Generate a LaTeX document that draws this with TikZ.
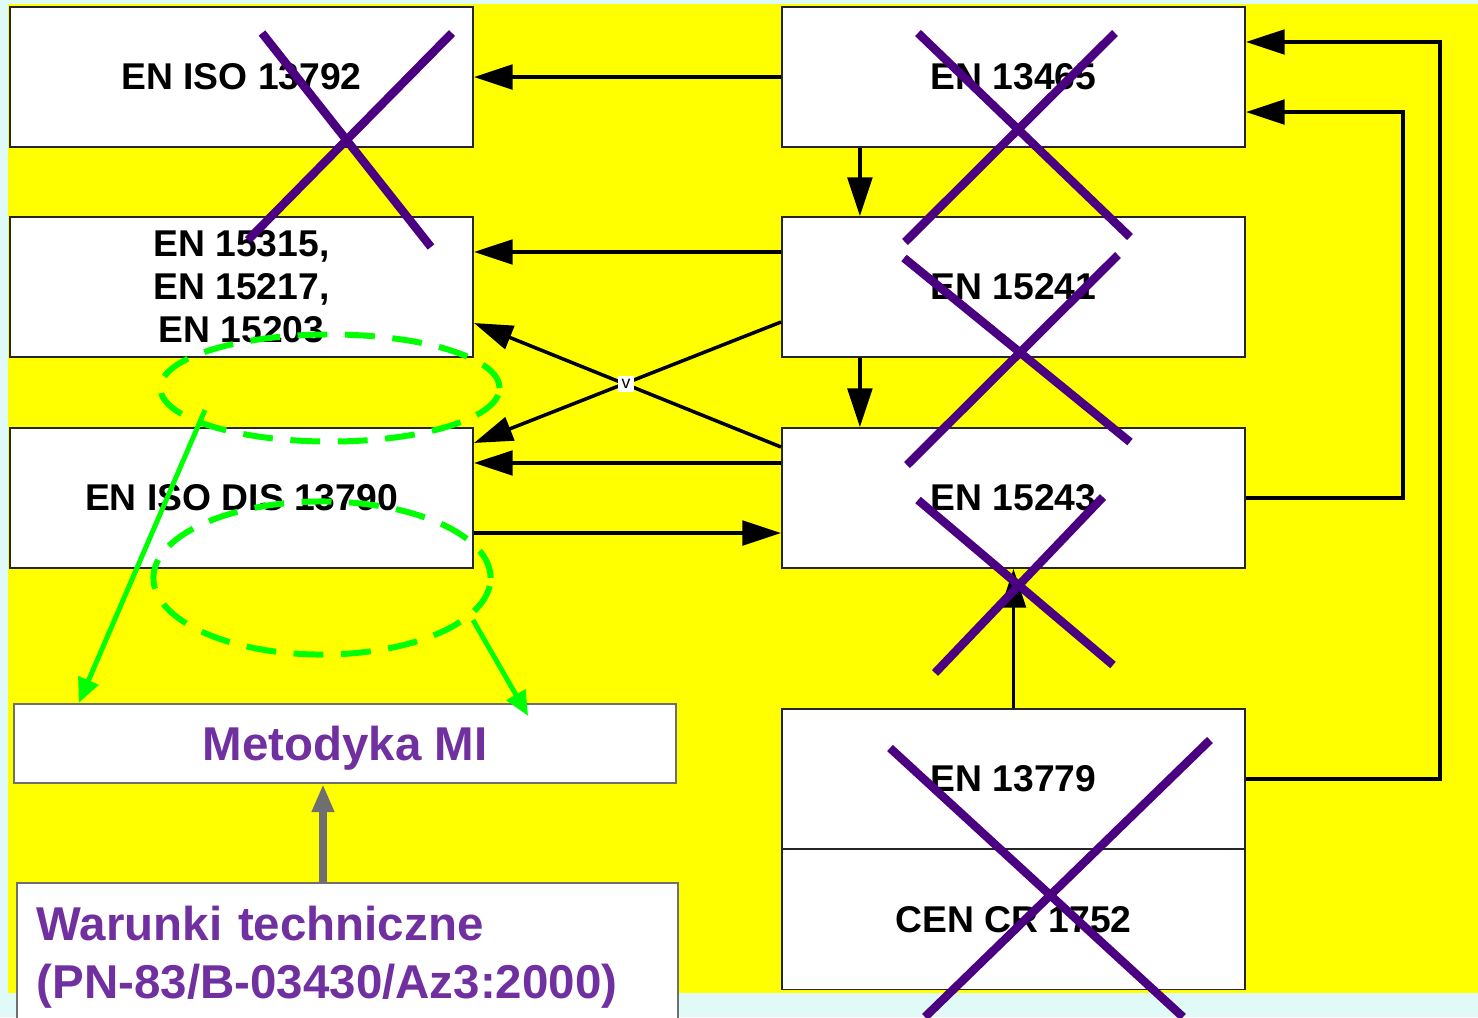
\documentclass[tikz,border=0pt]{standalone}
\usepackage{fontspec}
\setmainfont{Liberation Sans}
\usetikzlibrary{arrows.meta,shapes.geometric}
\definecolor{bgcyan}{HTML}{E0FAF8}
\definecolor{slideyellow}{RGB}{255,255,0}
\definecolor{crossviolet}{HTML}{4B0082}
\definecolor{textviolet}{HTML}{7030A0}
\definecolor{ringgreen}{HTML}{00FF00}
\definecolor{arrowgray}{HTML}{6F6F6F}

\begin{document}
\begin{tikzpicture}[
    x=0.01cm, y=-0.01cm,
    norm/.style={draw=black!85, fill=white, line width=0.5pt, minimum width=4.63cm, minimum height=1.40cm, inner sep=0pt, align=center, font=\fontsize{10.6}{12.2}\selectfont\bfseries},
    method/.style={draw=arrowgray, fill=white, line width=0.6pt, inner sep=0pt, text=textviolet, font=\fontsize{13.5}{16.5}\selectfont\bfseries},
    link/.style={-{Triangle[length=11pt,width=7pt]}, line width=1pt},
    cross/.style={draw=crossviolet, line width=2.4pt},
    ring/.style={ellipse, draw=ringgreen, line width=1.7pt, dash pattern=on 8.5pt off 5pt, inner sep=0pt},
    hint/.style={-{Triangle[length=7pt,width=6pt]}, draw=ringgreen, fill=ringgreen, line width=1.4pt}
]
\useasboundingbox (0,0) rectangle (1478,1017);
\clip (0,0) rectangle (1478,1017);
% slide background
\fill[bgcyan] (0,0) rectangle (1478,1017);
\fill[slideyellow] (8,4) rectangle (1478,993);

% standards
\node[norm] (iso13792) at (241.5,77) {EN ISO 13792};
\node[norm] (en15315) at (241.5,287) {EN 15315,\\EN 15217,\\EN 15203};
\node[norm] (iso13790) at (241.5,498) {EN ISO DIS 13790};
\node[norm] (en13465) at (1013.5,77) {EN 13465};
\node[norm] (en15241) at (1013.5,287) {EN 15241};
\node[norm] (en15243) at (1013.5,498) {EN 15243};
\node[norm] (en13779) at (1013.5,779) {EN 13779};
\node[norm] (cr1752) at (1013.5,919.5) {CEN CR 1752};

% method boxes
\node[method, minimum width=6.62cm, minimum height=0.79cm, text depth=0pt] (metodyka) at (345,743.5) {Metodyka MI};
\node[method, minimum width=6.61cm, minimum height=1.48cm, text width=6.21cm, align=left] (warunki) at (347.5,957) {Warunki techniczne\\(PN-83/B-03430/Az3:2000)};

% links between standards
\draw[link] (en13465.west) -- (iso13792.east);
\draw[link] ([xshift=-15.35mm]en13465.south) -- ([xshift=-15.35mm]en15241.north);
\draw[link] ([yshift=3.5mm]en15241.west) -- ([yshift=3.5mm]en15315.east);
\draw[link] ([yshift=-3.5mm]en15241.west) -- ([yshift=5.5mm]iso13790.east);
\draw[link] ([yshift=5.1mm]en15243.west) -- ([yshift=-3.6mm]en15315.east);
\draw[link] ([yshift=3.5mm]en15243.west) -- ([yshift=3.5mm]iso13790.east);
\draw[link] ([yshift=-3.5mm]iso13790.east) -- ([yshift=-3.5mm]en15243.west);
\draw[link] ([xshift=-15.35mm]en15241.south) -- ([xshift=-15.35mm]en15243.north);
\draw[link] (en13779.north) -- (en15243.south);
\draw[link] (en15243.east) -- ++(157,0) |- ([yshift=-3.5mm]en13465.east);
\draw[link] (en13779.east) -- ++(194,0) |- ([yshift=3.5mm]en13465.east);
\node[fill=white, inner sep=1pt, font=\fontsize{5}{5}\selectfont] (vmark) at (626,384) {v};

\draw[-{Triangle[length=8pt,width=6pt]}, draw=arrowgray, fill=arrowgray, line width=2pt]
    ([xshift=-2.2mm]metodyka.south |- warunki.north) -- ([xshift=-2.2mm]metodyka.south);

% crossed out
\foreach \ax/\ay/\bx/\by in {262/33/431/247, 452/33/248/240,
    918/33/1130/237, 1115/33/905/242,
    904/258/1130/442, 1118/255/907/465,
    918/500/1113/665, 1103/497/935/673,
    890/748/1183/1017, 1210/740/925/1017}
    \draw[cross] (\ax,\ay) -- (\bx,\by);

% green rings
\node[ring, minimum width=3.39cm, minimum height=1.07cm] (ring1) at (330,388) {};
\node[ring, minimum width=3.37cm, minimum height=1.53cm] (ring2) at (322,578) {};
\coordinate (ring1foot) at (205,410);
\coordinate (ring2foot) at (473,620);
\draw[hint] (ring1foot) -- ([xshift=6.6mm]metodyka.north west);
\draw[hint] (ring2foot) -- ([xshift=18.3mm, yshift=-1.3mm]metodyka.north);
\end{tikzpicture}
\end{document}
